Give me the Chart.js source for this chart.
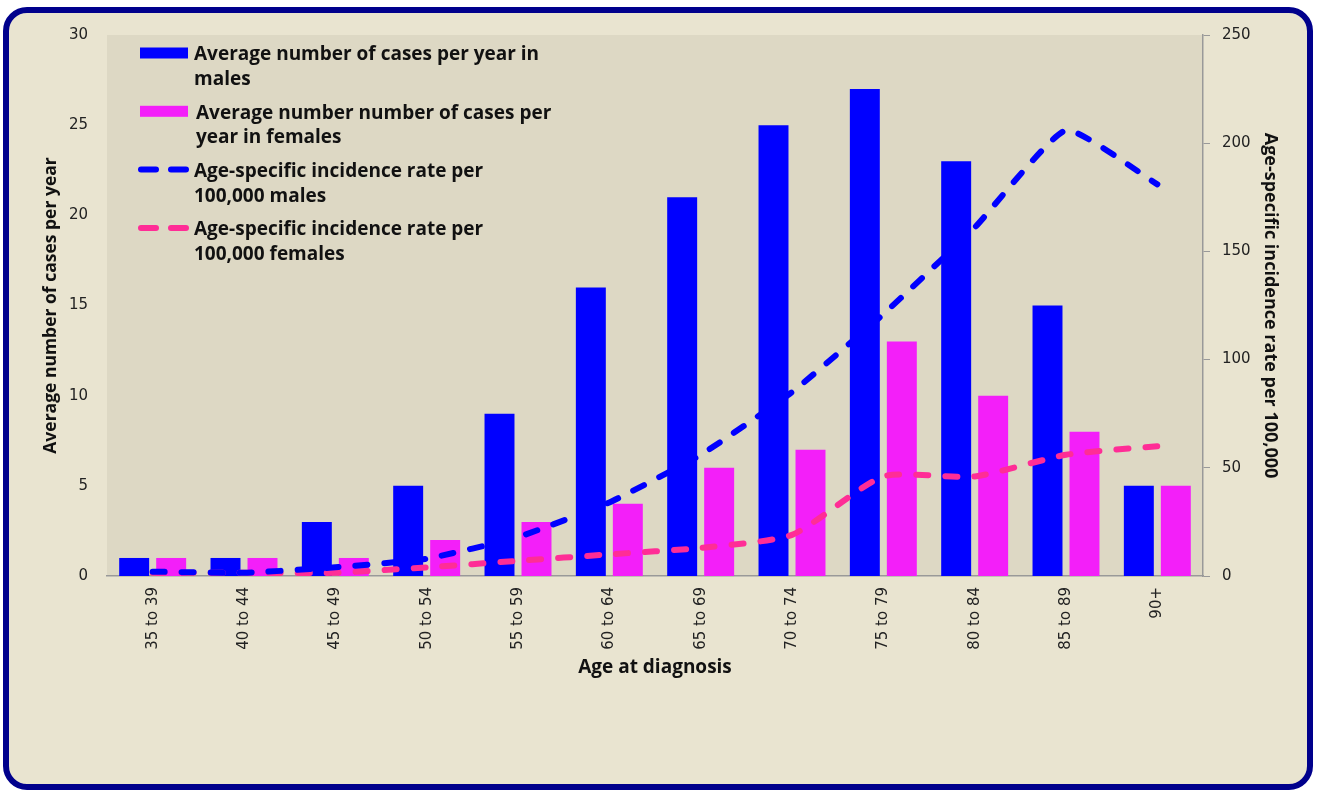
<!DOCTYPE html>
<html>
<head>
<meta charset="utf-8">
<script src="https://cdn.jsdelivr.net/npm/chart.js@4"></script>
<style>
  body { margin: 0; background: #ffffff; }
  #page { position: relative; width: 1317px; height: 792px; }
  #frame {
    position: absolute; left: 3px; top: 7px; width: 1298px; height: 771px;
    border: 6px solid #00008c; border-radius: 24px; background: #e9e4d0;
  }
  #wrap { position: absolute; left: 0; top: 0; width: 1317px; height: 792px; }
</style>
</head>
<body>
<div id="page">
  <div id="frame"></div>
  <div id="wrap"><canvas id="cases-chart"></canvas></div>
</div>
<script>
// age bands along the bottom
let ageGroups = ['35 to 39', '40 to 44', '45 to 49', '50 to 54', '55 to 59', '60 to 64',
                 '65 to 69', '70 to 74', '75 to 79', '80 to 84', '85 to 89', '90+']

// bars, left axis (cases per year)
let malesCases   = [1, 1, 3, 5, 9, 16, 21, 25, 27, 23, 15, 5]
let femalesCases = [1, 1, 1, 2, 3, 4, 6, 7, 13, 10, 8, 5]

// dashed lines, right axis (rate per 100,000)
let malesRate   = [2, 1.5, 4, 8, 18, 34, 56, 85, 121, 161, 206, 181]
let femalesRate = [1.5, 1.5, 1.5, 4, 7, 10, 13, 19, 46, 46, 56, 60]

// legend labels, one array of lines each
let legendLabels = [
    ['Average number of cases per year in', 'males'],
    ['Average number number of cases per', 'year in females'],
    ['Age-specific incidence rate per', '100,000 males'],
    ['Age-specific incidence rate per', '100,000 females']
]

let leftTicks  = [0, 30, 5]     // min, max, step
let rightTicks = [0, 250, 50]

let tickFont  = { family: 'DejaVu Sans', size: 15 }

// paints the plot area background
let plotBackground = {
    id: 'plotBackground',
    beforeDraw(chart) {
        let a = chart.chartArea
        let c = chart.ctx
        c.save()
        c.fillStyle = '#ddd8c4'
        c.fillRect(a.left, a.top, a.right - a.left, a.bottom - a.top)
        c.restore()
    }
}

// legend drawn inside the plot, labels wrap onto two lines
let insideLegend = {
    id: 'insideLegend',
    afterDraw(chart) {
        let a = chart.chartArea
        let c = chart.ctx
        c.save()
        chart.data.datasets.forEach(function(ds, i) {
            let y = a.top + 18 + i * 58.3
            let x = a.left + 33
            if (ds.type === 'line') {
                c.strokeStyle = ds.borderColor
                c.lineWidth = 6
                c.lineCap = 'round'
                c.beginPath()
                c.moveTo(x + 1, y); c.lineTo(x + 16, y)
                c.moveTo(x + 31, y); c.lineTo(x + 46, y)
                c.stroke()
            } else {
                c.fillStyle = ds.backgroundColor
                c.fillRect(x, y - 5.5, 48, 11)
            }
            c.fillStyle = '#111'
            c.font = 'bold 19px "Open Sans"'
            c.textBaseline = 'middle'
            legendLabels[i].forEach(function(line, k) {
                c.fillText(line, x + 54 + (i === 1 ? 2 : 0), y + 2 + k * 24.5)
            })
        })
        c.restore()
    }
}

let ctx = document.querySelector('#cases-chart').getContext('2d')

let casesChart = new Chart(ctx, {
    data: {
        labels: ageGroups,
        datasets: [
            {
                type: 'bar', label: legendLabels[0].join(' '), data: malesCases,
                backgroundColor: '#0000ff', yAxisID: 'yCases', order: 2,
                barPercentage: 0.81, categoryPercentage: 0.81
            },
            {
                type: 'bar', label: legendLabels[1].join(' '), data: femalesCases,
                backgroundColor: '#f31ff9', yAxisID: 'yCases', order: 2,
                barPercentage: 0.81, categoryPercentage: 0.81
            },
            {
                type: 'line', label: legendLabels[2].join(' '), data: malesRate,
                borderColor: '#0000ff', borderWidth: 6, borderDash: [12, 17],
                borderCapStyle: 'round', pointRadius: 0, tension: 0.15,
                yAxisID: 'yRate', order: 1
            },
            {
                type: 'line', label: legendLabels[3].join(' '), data: femalesRate,
                borderColor: '#ff2d96', borderWidth: 6, borderDash: [12, 17],
                borderCapStyle: 'round', pointRadius: 0, tension: 0.2,
                yAxisID: 'yRate', order: 1
            }
        ]
    },
    options: {
        responsive: true,
        maintainAspectRatio: false,
        animation: false,
        layout: { padding: { top: 35, left: 0, right: 0, bottom: 0 } },
        plugins: { legend: { display: false }, tooltip: { enabled: false } },
        scales: {
            x: {
                grid: { display: false, drawTicks: false },
                border: { color: '#999', width: 1.5 },
                ticks: { color: '#222', font: tickFont, minRotation: 90, maxRotation: 90, padding: 11 },
                title: { display: true, text: 'Age at diagnosis', color: '#111',
                         font: { family: 'Open Sans', weight: 'bold', size: 19 },
                         padding: { bottom: 113 } },
                afterFit(scale) { scale.height = 216 }
            },
            yCases: {
                position: 'left',
                min: leftTicks[0], max: leftTicks[1],
                grid: { display: false, drawTicks: false },
                border: { display: false },
                ticks: { stepSize: leftTicks[2], color: '#222', font: tickFont, padding: 19 },
                title: { display: true, text: 'Average number of cases per year', color: '#111',
                         font: { family: 'Open Sans', weight: 'bold', size: 17.5 },
                         padding: { top: 41 } },
                afterFit(scale) { scale.width = 107 }
            },
            yRate: {
                position: 'right',
                min: rightTicks[0], max: rightTicks[1],
                grid: { drawOnChartArea: false, color: '#999', tickLength: 7 },
                border: { color: '#999', width: 1.5 },
                ticks: { stepSize: rightTicks[2], color: '#222', font: tickFont, padding: 12 },
                title: { display: true, text: 'Age-specific incidence rate per 100,000', color: '#111',
                         font: { family: 'Open Sans', weight: 'bold', size: 18 },
                         padding: { top: 36 } },
                afterFit(scale) { scale.width = 114 }
            }
        }
    },
    plugins: [plotBackground, insideLegend]
})
</script>
</body>
</html>
